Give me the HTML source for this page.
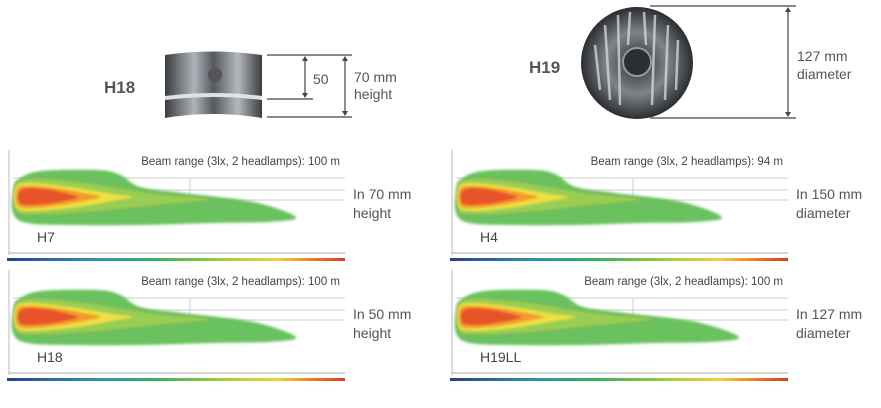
<!DOCTYPE html>
<html><head><meta charset="utf-8">
<style>
body{margin:0;background:#fff;font-family:"Liberation Sans",sans-serif;}
svg{display:block}
</style></head>
<body>
<svg id="c" width="881" height="408" viewBox="0 0 881 408" xmlns="http://www.w3.org/2000/svg">
<defs>
<linearGradient id="cbar" x1="0" x2="1">
<stop offset="0" stop-color="#2a3f8f"/><stop offset="0.25" stop-color="#2f8fb0"/><stop offset="0.45" stop-color="#3fb05a"/>
<stop offset="0.65" stop-color="#a6cf3c"/><stop offset="0.8" stop-color="#f2d23a"/><stop offset="0.9" stop-color="#ee7f2a"/><stop offset="1" stop-color="#d63a2a"/>
</linearGradient>
<radialGradient id="lampg" cx="0.5" cy="0.5" r="0.5">
<stop offset="0" stop-color="#2a2d31"/><stop offset="0.55" stop-color="#80848a"/><stop offset="1" stop-color="#2a2d31"/>
</radialGradient>
<linearGradient id="h18g" x1="0" x2="1">
<stop offset="0" stop-color="#3a3d42"/><stop offset="0.3" stop-color="#b0b4ba"/><stop offset="0.5" stop-color="#55585e"/><stop offset="0.75" stop-color="#b5b8bd"/><stop offset="1" stop-color="#3a3d42"/>
</linearGradient>
<filter id="soft"><feGaussianBlur stdDeviation="1.2"/></filter>
</defs>

<!-- H18 lamp -->
<g>
<path d="M165,55 Q213,48 262,55 L262,118 Q213,110 165,118 Z" fill="url(#h18g)"/>
<path d="M165,96 Q213,90 262,96 L262,100 Q213,94 165,100 Z" fill="#e0e2e5"/>
<circle cx="215" cy="75" r="7" fill="#555"/>
</g>
<g stroke="#444" stroke-width="1.2" fill="none">
<line x1="267" y1="55" x2="352" y2="55"/><line x1="267" y1="99" x2="313" y2="99"/><line x1="267" y1="117" x2="352" y2="117"/>
<line x1="305" y1="58" x2="305" y2="96"/><line x1="345" y1="58" x2="345" y2="114"/>
</g>
<g fill="#444"><path d="M305,56 l-3,5 h6z"/><path d="M305,98 l-3,-5 h6z"/><path d="M345,56 l-3,5 h6z"/><path d="M345,116 l-3,-5 h6z"/></g>
<text x="104" y="93" font-size="17" font-weight="bold" fill="#555">H18</text>
<text x="313" y="84" font-size="14" fill="#555">50</text>
<text x="354" y="82" font-size="14" fill="#555">70 mm</text>
<text x="354" y="99" font-size="14" fill="#555">height</text>

<!-- H19 lamp -->
<g>
<circle cx="637" cy="63" r="56" fill="url(#lampg)"/>
<g stroke="#d8dce0" stroke-width="2.5" opacity="0.75">
<line x1="605" y1="25" x2="610" y2="100"/><line x1="618" y1="15" x2="620" y2="105"/><line x1="655" y1="15" x2="652" y2="105"/><line x1="668" y1="25" x2="665" y2="100"/><line x1="595" y1="45" x2="600" y2="90"/><line x1="678" y1="40" x2="676" y2="90"/><line x1="630" y1="12" x2="628" y2="45"/><line x1="644" y1="12" x2="646" y2="45"/>
</g>
<circle cx="637" cy="62" r="14" fill="#2b2e33" stroke="#999" stroke-width="2"/>
</g>
<g stroke="#444" stroke-width="1.2">
<line x1="650" y1="6" x2="796" y2="6"/><line x1="650" y1="118" x2="796" y2="118"/><line x1="788" y1="9" x2="788" y2="115"/>
</g>
<g fill="#444"><path d="M788,7 l-3,5 h6z"/><path d="M788,117 l-3,-5 h6z"/></g>
<text x="529" y="73" font-size="17" font-weight="bold" fill="#555">H19</text>
<text x="797" y="61" font-size="14" fill="#555">127 mm</text>
<text x="797" y="79" font-size="14" fill="#555">diameter</text>
<g id="panels"></g>
</svg>
<script>
const panelNames = ["H7","H4","H18","H19LL"];
const beamRanges = [100,94,100,100];
const sideLabels1 = ["In 70 mm","In 150 mm","In 50 mm","In 127 mm"];
const sideLabels2 = ["height","diameter","height","diameter"];
const panelX = [5,448,5,448];
const panelY = [145,145,265,265];
const NS="http://www.w3.org/2000/svg";
const root=document.getElementById('panels');
function mk(tag,attrs,parent){const e=document.createElementNS(NS,tag);for(const k in attrs)e.setAttribute(k,attrs[k]);(parent||root).appendChild(e);return e;}
function shape(X0,cy,L,pts){
  const P=pts.map(p=>[X0+p[0]*L,cy+p[1]]);const n=P.length;
  let d='M'+P[0][0].toFixed(1)+','+P[0][1].toFixed(1);
  for(let i=0;i<n;i++){
    const p0=P[(i-1+n)%n],p1=P[i],p2=P[(i+1)%n],p3=P[(i+2)%n];
    const c1=[p1[0]+(p2[0]-p0[0])/6,p1[1]+(p2[1]-p0[1])/6];
    const c2=[p2[0]-(p3[0]-p1[0])/6,p2[1]-(p3[1]-p1[1])/6];
    d+=' C'+c1.map(v=>v.toFixed(1)).join(',')+' '+c2.map(v=>v.toFixed(1)).join(',')+' '+p2[0].toFixed(1)+','+p2[1].toFixed(1);
  }
  return d+'Z';
}
const outer=[[0,-8],[0.02,-18],[0.1,-26],[0.3,-27],[0.38,-22],[0.45,-10],[0.6,-4],[0.85,5],[1,20],[0.9,25],[0.7,26],[0.45,28],[0.2,28],[0.05,26],[0,16]];
const lg=[[0.01,-13],[0.08,-19],[0.25,-15],[0.5,-4],[0.7,2],[0.5,9],[0.25,16],[0.08,18],[0.01,14]];
const yl=[[0.01,-10],[0.06,-14],[0.2,-10],[0.35,-3],[0.42,0],[0.35,4],[0.2,11],[0.06,14],[0.01,10]];
const or=[[0.015,-8],[0.05,-11],[0.15,-9],[0.27,-3],[0.31,0],[0.27,3],[0.15,9],[0.05,11],[0.015,8]];
const rd=[[0.02,-5],[0.05,-9],[0.12,-8],[0.2,-3],[0.23,0],[0.2,3],[0.12,7],[0.05,8],[0.02,5]];
for(let i=0;i<4;i++){
  const X=panelX[i],T=panelY[i];
  const g=mk('g',{});
  
  
  mk('rect',{x:X,y:T,width:340,height:118,fill:'#fff'},g);
  mk('line',{x1:X+4,y1:T+5,x2:X+4,y2:T+110,stroke:'#bbb','stroke-width':1},g);
  [33,45,55].forEach(d=>mk('line',{x1:X+8,y1:T+d,x2:X+340,y2:T+d,stroke:'#ccc','stroke-width':1},g));
  mk('line',{x1:X+185,y1:T+33,x2:X+185,y2:T+55,stroke:'#ccc','stroke-width':1},g);
  const L=283*beamRanges[i]/100, X0=X+8, cy=T+52;
  const b=mk('g',{filter:'url(#soft)'},g);
  
  
  mk('path',{d:shape(X0,cy,L,outer),fill:'#6ac25e'},b);
  mk('path',{d:shape(X0,cy,L,lg),fill:'#98ce52',stroke:'#5c8a50','stroke-width':0.5},b);
  mk('path',{d:shape(X0,cy,L,yl),fill:'#f0e040'},b);
  mk('path',{d:shape(X0,cy,L,or),fill:'#f39a2c'},b);
  mk('path',{d:shape(X0,cy,L,rd),fill:'#e8532a'},b);
  mk('line',{x1:X+4,y1:T+108,x2:X+340,y2:T+108,stroke:'#aaa','stroke-width':1},g);
  mk('rect',{x:X+2,y:T+113,width:338,height:3,fill:'url(#cbar)'},g);
  const t1=mk('text',{x:X+335,y:T+20,'font-size':11.5,fill:'#444','text-anchor':'end'},g);
  t1.textContent='Beam range (3lx, 2 headlamps): '+beamRanges[i]+' m';
  
  
  const t2=mk('text',{x:X+32,y:T+97,'font-size':14,fill:'#444'},g);
  t2.textContent=panelNames[i];
  
  
  const t3=mk('text',{x:X+348,y:T+54,'font-size':14,fill:'#555'},g);
  t3.textContent=sideLabels1[i];
  
  
  const t4=mk('text',{x:X+348,y:T+73,'font-size':14,fill:'#555'},g);
  t4.textContent=sideLabels2[i];
  
  
}
</script>
</body></html>
